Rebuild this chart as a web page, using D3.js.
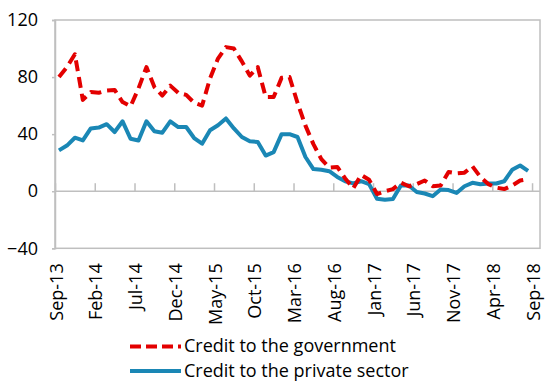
<!DOCTYPE html>
<html>
<head>
<meta charset="utf-8">
<script src="https://cdn.jsdelivr.net/npm/d3@7"></script>
<style>
  html, body { margin: 0; padding: 0; background: #fff; }
  svg { display: block; font-family: "Open Sans", "Noto Sans", sans-serif; }
</style>
</head>
<body>
<svg id="chart" width="545" height="381"></svg>
<script>
// Monthly categories, Sep-13 .. Sep-18 (axis slots)
const categories = [
  "Sep-13","Oct-13","Nov-13","Dec-13","Jan-14","Feb-14","Mar-14","Apr-14","May-14","Jun-14","Jul-14","Aug-14",
  "Sep-14","Oct-14","Nov-14","Dec-14","Jan-15","Feb-15","Mar-15","Apr-15","May-15","Jun-15","Jul-15","Aug-15",
  "Sep-15","Oct-15","Nov-15","Dec-15","Jan-16","Feb-16","Mar-16","Apr-16","May-16","Jun-16","Jul-16","Aug-16",
  "Sep-16","Oct-16","Nov-16","Dec-16","Jan-17","Feb-17","Mar-17","Apr-17","May-17","Jun-17","Jul-17","Aug-17",
  "Sep-17","Oct-17","Nov-17","Dec-17","Jan-18","Feb-18","Mar-18","Apr-18","May-18","Jun-18","Jul-18","Aug-18",
  "Sep-18"
];

const tickLabels = ["Sep-13","Feb-14","Jul-14","Dec-14","May-15","Oct-15","Mar-16","Aug-16","Jan-17","Jun-17","Nov-17","Apr-18","Sep-18"];
const yTicks = [-40, 0, 40, 80, 120];

// Credit to the government (Sep-13 .. Aug-18)
const government = [
  80, 87, 96, 64, 69.5, 69, 70.5, 71, 62.5, 59.5, 72, 87,
  73, 67, 74, 69, 67.5, 62, 60, 79, 93, 101, 100, 91,
  81, 87, 66, 66, 79.5, 80, 62, 46, 33, 22.5, 16.5, 17,
  9, 2, 11.5, 8, -2, 0, 1.5, 6, 3.5, 5, 7.5, 3.5,
  4, 13.5, 12.5, 13, 17.5, 10, 5, 2.5, 1.5, 4, 7.5, 8.5
];

// Credit to the private sector (Sep-13 .. Aug-18)
const privateSector = [
  28.6, 32, 37.5, 35.6, 44, 44.6, 47, 41.5, 49, 36.8, 35.6, 49,
  42, 41, 49, 45, 45, 37.3, 33.3, 42.7, 46.2, 51, 44, 38,
  35, 34.5, 25, 27.4, 40, 40, 38, 24, 15.5, 15, 14, 10,
  7, 5.5, 7, 5, -5.3, -6, -5.5, 4, 4, -0.5, -1.6, -3.5,
  1.2, 0.8, -1.2, 3.5, 5.9, 4.9, 5.4, 5.4, 7, 15, 18, 14.3
];

const seriesNames = ["Credit to the government", "Credit to the private sector"];

const RED = "#e30000";
const BLUE = "#1a87b5";
const GRAY = "#bfbfbf";
const FONT = 18;

const svg = d3.select("#chart");
const plotLeft = 55, plotRight = 540, plotTop = 20, plotBottom = 248.3;

const x = d3.scaleLinear().domain([0, categories.length]).range([plotLeft, plotRight]);
const y = d3.scaleLinear().domain([-40, 120]).range([plotBottom, plotTop]);

// plot border
svg.append("rect")
  .attr("x", plotLeft).attr("y", plotTop)
  .attr("width", plotRight - plotLeft).attr("height", plotBottom - plotTop)
  .attr("fill", "none").attr("stroke", GRAY).attr("stroke-width", 1.5);

// y axis labels + small ticks
const yAxis = d3.axisLeft(y).tickValues(yTicks).tickSize(3).tickPadding(14).tickFormat(d3.format("d"));
const gy = svg.append("g").attr("transform", `translate(${plotLeft},0)`).call(yAxis);
gy.select(".domain").attr("stroke", GRAY).attr("stroke-width", 1.5);
gy.selectAll(".tick line").attr("stroke", GRAY).attr("stroke-width", 1.5);
gy.selectAll(".tick text").attr("font-size", FONT).attr("fill", "#000")
  .attr("font-family", "'Open Sans', sans-serif");

// zero line with upward ticks
const tickIdx = tickLabels.map(l => categories.indexOf(l));
const xAxis = d3.axisTop(x).tickValues(tickIdx).tickSize(8).tickFormat("");
const gx = svg.append("g").attr("transform", `translate(0,${y(0)})`).call(xAxis);
gx.select(".domain").attr("stroke", GRAY).attr("stroke-width", 1.5).attr("d", `M${plotLeft},0H${plotRight}`);
gx.selectAll(".tick line").attr("stroke", GRAY).attr("stroke-width", 1.5);

// rotated category labels under the plot
svg.append("g").selectAll("text")
  .data(tickIdx)
  .join("text")
  .attr("transform", d => `translate(${x(d)},${plotBottom + 15}) rotate(-90)`)
  .attr("text-anchor", "end")
  .attr("dy", "0.42em")
  .attr("font-size", FONT)
  .attr("fill", "#000")
  .text(d => categories[d]);

// lines
const line = d3.line()
  .defined(d => d != null)
  .x((d, i) => x(i + 0.5))
  .y(d => y(d));

svg.append("path")
  .datum(privateSector)
  .attr("d", line)
  .attr("fill", "none")
  .attr("stroke", BLUE)
  .attr("stroke-width", 4)
  .attr("stroke-linejoin", "round");

svg.append("path")
  .datum(government)
  .attr("d", line)
  .attr("fill", "none")
  .attr("stroke", RED)
  .attr("stroke-width", 4)
  .attr("stroke-dasharray", "11,6")
  .attr("stroke-linejoin", "round");

// legend
const legend = svg.append("g");
const legendItems = [
  { name: seriesNames[0], color: RED, dash: "11,5", y: 346.5 },
  { name: seriesNames[1], color: BLUE, dash: null, y: 371 }
];
legendItems.forEach(it => {
  legend.append("line")
    .attr("x1", 130).attr("x2", 181)
    .attr("y1", it.y).attr("y2", it.y)
    .attr("stroke", it.color).attr("stroke-width", 4)
    .attr("stroke-dasharray", it.dash);
  legend.append("text")
    .attr("x", 184).attr("y", it.y)
    .attr("dy", "0.33em")
    .attr("font-size", FONT)
    .attr("fill", "#000")
    .text(it.name);
});
</script>
</body>
</html>
